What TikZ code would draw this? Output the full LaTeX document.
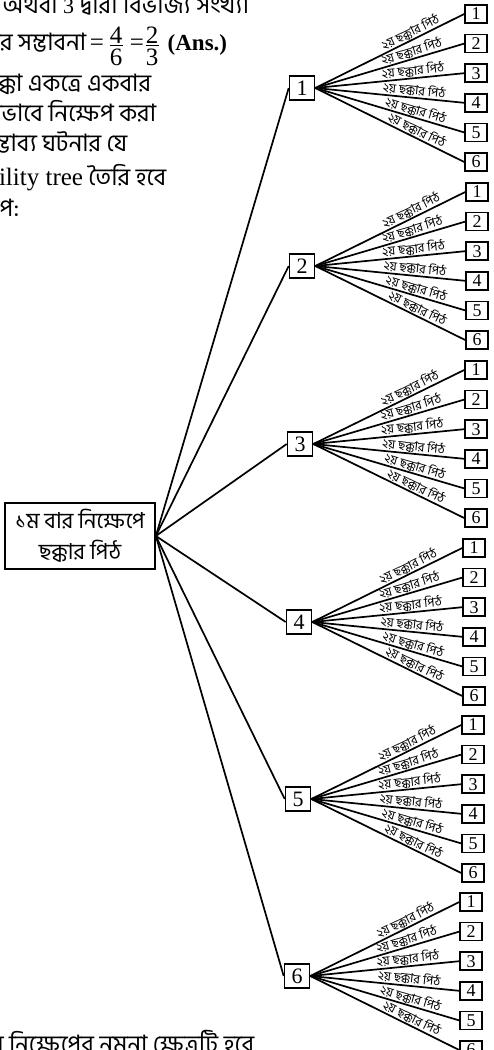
\documentclass[tikz,border=0pt]{standalone}
\usepackage{fontspec}
\setmainfont{Liberation Serif}
\newfontfamily\bn[Script=Bengali]{Hind Siliguri}
\begin{document}
\begin{tikzpicture}[x=1pt,y=-1pt,
  line width=1.7pt,
  rootbox/.style={draw, line width=1.7pt, align=center,
    font=\bn\fontsize{22}{31}\selectfont, minimum width=150pt,
    minimum height=66pt, inner sep=0pt},
  firstbox/.style={draw, line width=1.6pt, minimum width=25pt,
    minimum height=24pt, inner sep=0pt, font=\fontsize{22}{22}\selectfont},
  secondbox/.style={draw, line width=1.6pt, minimum width=22pt,
    minimum height=18pt, inner sep=0pt, font=\fontsize{18}{18}\selectfont},
  edgelab/.style={sloped, above, pos=0.66, inner sep=0.5pt,
    font=\bn\fontsize{12.5}{12.5}\selectfont},
  bodytext/.style={anchor=base east, inner sep=0pt,
    font=\bn\fontsize{24}{24}\selectfont},
  mathtext/.style={inner sep=0pt, font=\fontsize{25}{25}\selectfont},
]
\useasboundingbox (0,0) rectangle (493,1050);
\clip (0,0) rectangle (493,1050);

% running text of the page beside the tree
\node[bodytext] (t0) at (250,13) {জোড় অথবা {\rmfamily\fontsize{22}{22}\selectfont 3} দ্বারা বিভাজ্য সংখ্যা};

% the probability and its two fractions
\node[bodytext] (t1) at (87,50) {হওয়ার সম্ভাবনা};
\node[mathtext] (eq1) at (97,45) {=};
\node[mathtext] (n1) at (116,35) {4};
\node[mathtext] (d1) at (116,57) {6};
\draw[line width=0.9pt] (109.5,45.5) -- (122.5,45.5);
\node[mathtext] (eq2) at (137,45) {=};
\node[mathtext] (n2) at (152,35) {2};
\node[mathtext] (d2) at (152,57) {3};
\draw[line width=0.9pt] (145.5,45.5) -- (158.5,45.5);
\node[anchor=base east, inner sep=0pt, font=\bfseries\fontsize{23}{23}\selectfont] (ans) at (228,50) {(Ans.)};

\node[bodytext] (t2) at (152,91) {দুইটি ছক্কা একত্রে একবার};
\node[bodytext] (t3) at (157,121) {সুষমভাবে নিক্ষেপ করা};
\node[bodytext] (t4) at (128,151) {সম্ভাব্য ঘটনার যে};
\node[bodytext] (t5) at (167,185) {{\rmfamily\fontsize{25}{25}\selectfont Probability tree} তৈরি হবে};
\node[bodytext] (t6) at (20,216) {নিম্নরূপ:};
\node[bodytext] (t7) at (255,1052) {একবার নিক্ষেপের নমুনা ক্ষেত্রটি হবে};

% root of the tree
\node[rootbox] (root) at (80,536) {১ম বার নিক্ষেপে\\ছক্কার পিঠ};

% first throw and second throw branches
\foreach \i/\px/\py/\cx in {1/302/88/476, 2/302/266/477, 3/300/444/476,
                            4/299/622/474, 5/298/799/473, 6/297/976/471} {
  \node[firstbox] (a\i) at (\px,\py) {\i};
  \draw (root.east) -- (a\i.west);
  \foreach \j/\off in {1/-74, 2/-44.4, 3/-14.8, 4/14.8, 5/44.4, 6/74} {
    \node[secondbox] (b\i\j) at (\cx,\py+\off) {\j};
    \draw (a\i.east) -- node[edgelab] {২য় ছক্কার পিঠ} (b\i\j.west);
  }
}
\end{tikzpicture}
\end{document}
